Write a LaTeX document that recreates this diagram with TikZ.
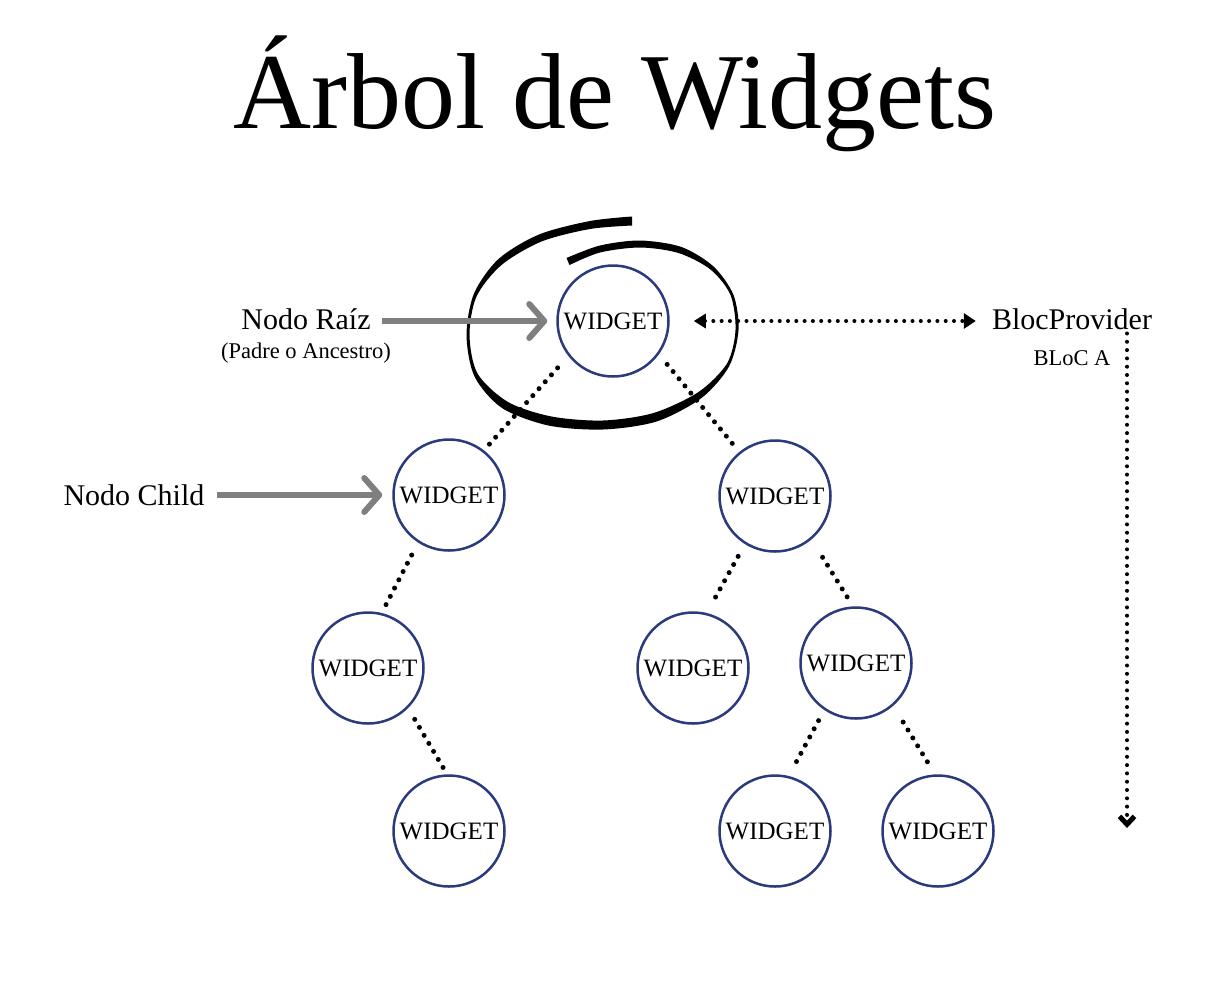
\documentclass[tikz,border=0pt]{standalone}
\usepackage{fontspec}
\setmainfont{Liberation Serif}
\usetikzlibrary{arrows.meta}
\definecolor{navy}{HTML}{2B3A7C}
\definecolor{arrowgray}{HTML}{7F7F7F}
\tikzset{
  widget/.style={circle, draw=navy, line width=2.5pt, minimum size=111pt, inner sep=0pt,
    font=\fontsize{25}{28}\selectfont},
  lbl/.style={inner sep=0pt, anchor=base, font=\fontsize{30}{34}\selectfont},
  smalllbl/.style={inner sep=0pt, anchor=base, font=\fontsize{22.5}{26}\selectfont},
  treeedge/.style={line width=5pt, line cap=round, dash pattern=on 0pt off 9.3pt},
  grayarrow/.style={draw=arrowgray, line width=6pt,
    -{Straight Barb[length=15pt, width=34pt, line width=6pt, round]}},
  dotline/.style={line width=4pt, line cap=round, dash pattern=on 0pt off 8.3pt}
}
\begin{document}
\begin{tikzpicture}[x=1pt, y=-1pt]
\useasboundingbox (0,0) rectangle (1228,986);

% title
\node[inner sep=0pt, anchor=base, font=\fontsize{108}{114}\selectfont] (title) at (615,128) {Árbol de Widgets};

% swirl around the root
\fill plot[smooth] coordinates {(632,216.5) (590,221) (539,234.5) (498.5,259) (474,293.5) (466.5,335) (474.5,376.5) (502,408) (548.5,425.5) (603,429.5) (656.5,421.5) (701.5,398) (729,366.5) (738.5,330) (733.5,295) (713.5,266.5) (681.5,247) (640,240.5) (600,245.5) (566.5,258)}
  -- plot[smooth] coordinates {(569.5,265) (600,252.5) (640,247.5) (678.5,253) (710.5,269.5) (730.5,295) (735.5,330) (727,363.5) (698.5,392) (653.5,413) (603,420.5) (551.5,416.5) (508,402) (477.5,373.5) (469.5,335) (476.5,296.5) (501.5,265) (541.5,241.5) (590,229) (632,225.5)} -- cycle;

% widgets
\node[widget] (root) at (613,321) {WIDGET};
\node[widget] (l1a) at (449,495) {WIDGET};
\node[widget] (l1b) at (775,496) {WIDGET};
\node[widget] (l2a) at (368,668) {WIDGET};
\node[widget] (l2b) at (693,668) {WIDGET};
\node[widget] (l2c) at (856,663) {WIDGET};
\node[widget] (l3a) at (449,831) {WIDGET};
\node[widget] (l3b) at (775,831) {WIDGET};
\node[widget] (l3c) at (938,831) {WIDGET};

% tree edges
\draw[treeedge, shorten <=16pt, shorten >=8pt] (root.218) -- (l1a.52);
\draw[treeedge, shorten <=13pt, shorten >=6pt] (root.324) -- (l1b.129);
\draw[treeedge, shorten <=14pt, shorten >=8pt] (l1a.237) -- (l2a.76);
\draw[treeedge, shorten <=14pt, shorten >=9pt] (l1b.238) -- (l2b.76);
\draw[treeedge, shorten <=21pt, shorten >=5pt] (l1b.310) -- (l2c.93);
\draw[treeedge, shorten <=13pt, shorten >=6pt] (l2a.315) -- (l3a.92);
\draw[treeedge, shorten <=12pt, shorten >=11pt] (l2c.236) -- (l3b.76);
\draw[treeedge, shorten <=19pt, shorten >=10pt] (l2c.311) -- (l3c.93);

% labels
\node[lbl] (nraiz) at (306,329) {Nodo Raíz};
\node[smalllbl] (padre) at (306,358) {(Padre o Ancestro)};
\node[lbl] (nchild) at (134,505) {Nodo Child};
\node[lbl] (bp) at (1072,329) {BlocProvider};
\node[smalllbl] (bloca) at (1072,365) {BLoC A};

% gray arrows
\draw[grayarrow, shorten <=11pt, shorten >=9pt] (nraiz.east |- root.west) -- (root.west);
\draw[grayarrow, shorten <=12pt, shorten >=10pt] (nchild.east |- l1a.west) -- (l1a.west);

% BlocProvider connector
\draw[dotline, {Triangle[length=12pt, width=14pt]}-{Triangle[length=12pt, width=15pt]},
  shorten <=24pt, shorten >=16pt] (root.east) -- (bp.west |- root.east);

% vertical dotted arrow
\coordinate (vend) at (1127,828);
\draw[dotline, -{Straight Barb[length=8pt, width=15pt, line width=5pt]}, shorten <=4pt]
  (vend |- bp.south) -- (vend);
\end{tikzpicture}
\end{document}
